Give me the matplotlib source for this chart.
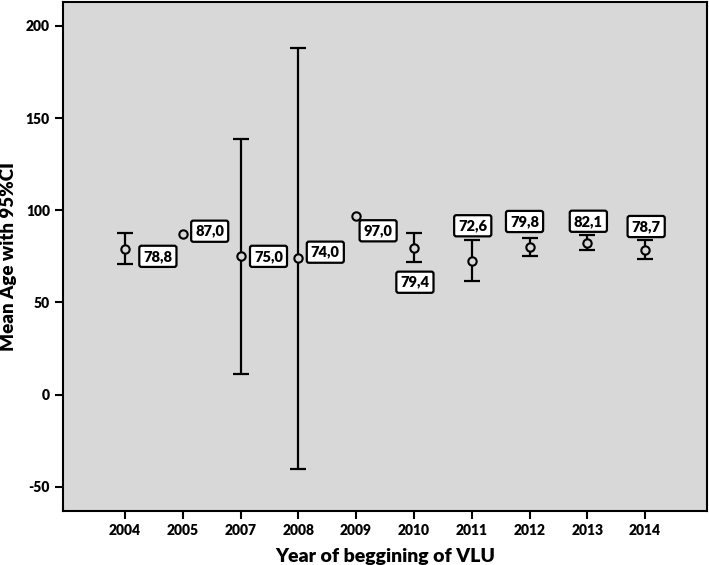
import numpy as np
import matplotlib
matplotlib.use("Agg")
import matplotlib.pyplot as plt

plt.rcParams['font.family'] = ['Lato', 'DejaVu Sans']
plt.rcParams['font.weight'] = 'heavy'
plt.rcParams['axes.unicode_minus'] = False

# dati
years = ['2004', '2005', '2007', '2008', '2009', '2010', '2011', '2012', '2013', '2014']
mean_age = [78.8, 87.0, 75.0, 74.0, 97.0, 79.4, 72.6, 79.8, 82.1, 78.7]
ci_low = [70.7, None, 11.4, -40.2, None, 71.7, 61.6, 75.0, 78.3, 73.7]
ci_high = [87.5, None, 138.4, 188.2, None, 87.7, 84.0, 85.0, 86.4, 84.0]
value_labels = ['78,8', '87,0', '75,0', '74,0', '97,0', '79,4', '72,6', '79,8', '82,1', '78,7']

# spostamento etichette (pixel)
label_offsets = [(33, -7), (27, 3), (28, 0), (27, 6), (22, -15),
                 (1, -34), (1, 35), (-5, 26), (1, 22), (1, 23)]

fig = plt.figure(figsize=(7.09, 5.65), dpi=100)
ax = fig.add_axes([0.0889, 0.0961, 0.9083, 0.9004])
bg = '#d8d8d8'
ax.set_facecolor(bg)

x = np.arange(len(years))

# barre di errore solo dove c'e' l'intervallo
idx = [i for i in range(len(years)) if ci_low[i] is not None]
m = np.array([mean_age[i] for i in idx])
lo = np.array([ci_low[i] for i in idx])
hi = np.array([ci_high[i] for i in idx])
ax.errorbar(x[idx], m, yerr=[m - lo, hi - m], fmt='none', ecolor='black',
            elinewidth=1.6, capsize=6, capthick=1.6, zorder=2)

ax.plot(x, mean_age, 'o', ms=6, mfc=bg, mec='black', mew=1.5, ls='none', zorder=3)

for i, lab in enumerate(value_labels):
    ax.annotate(lab, (x[i], mean_age[i]), xytext=label_offsets[i], textcoords='offset pixels',
                ha='center', va='center', fontsize=10.5, fontweight='heavy', zorder=4,
                bbox=dict(boxstyle='round,pad=0.28,rounding_size=0.15', fc='white', ec='black', lw=1.6))

ax.set_xlim(-1.07, 10.07)
ax.set_ylim(-63, 213)
ax.set_xticks(x)
ax.set_xticklabels(years, fontweight='heavy')
ax.set_yticks([-50, 0, 50, 100, 150, 200])
ax.set_yticklabels(['-50', '0', '50', '100', '150', '200'], fontweight='heavy')
ax.tick_params(axis='both', labelsize=10, width=1.5, length=6, direction='out', colors='black')

for s in ax.spines.values():
    s.set_linewidth(1.5)
    s.set_color('black')

ax.set_xlabel('Year of beggining of VLU', fontsize=14, fontweight='heavy', labelpad=8)
ax.set_ylabel('Mean Age with 95%CI', fontsize=13.5, fontweight='heavy', labelpad=6)

fig.savefig('out.png', dpi=100)
